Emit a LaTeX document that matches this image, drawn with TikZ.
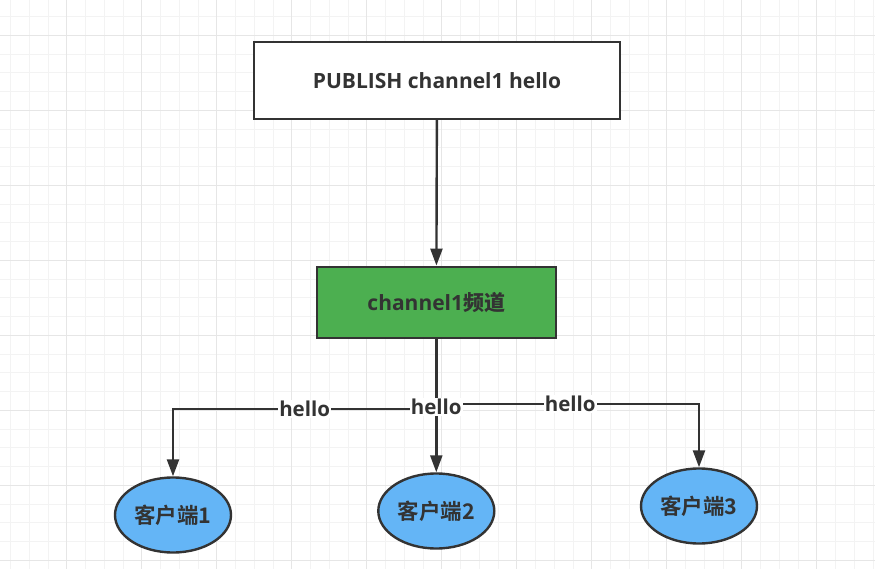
\documentclass[tikz,border=0pt]{standalone}
\usepackage{fontspec}
\setmainfont{Open Sans}
\newfontfamily\cjk{Noto Sans CJK SC Bold}
\usetikzlibrary{arrows.meta,shapes.geometric}
\definecolor{ink}{HTML}{333333}
\definecolor{gfill}{HTML}{4CAF50}
\definecolor{bfill}{HTML}{64B5F6}
\definecolor{gminor}{HTML}{F3F3F3}
\definecolor{gmajor}{HTML}{E6E6E6}
\tikzset{
  minorline/.style={draw=gminor,line width=1pt},
  majorline/.style={draw=gmajor,line width=1pt},
  boxstyle/.style={draw=ink,line width=2.4pt,rectangle,text=ink,font=\fontsize{21}{24}\selectfont\bfseries},
  client/.style={draw=ink,line width=2.4pt,ellipse,fill=bfill,text=ink,inner sep=0pt,minimum width=116pt,minimum height=75pt,font=\fontsize{21.5}{24}\selectfont\cjk},
  conn/.style={draw=ink,line width=2.4pt,-{Triangle[length=17pt,width=12pt]}},
  lbl/.style={fill=white,text=ink,inner sep=1pt,font=\fontsize{20.5}{24}\selectfont\bfseries}
}
\begin{document}
\begin{tikzpicture}[x=1pt,y=-1pt]
\useasboundingbox (0,0) rectangle (875,569);
\fill[white] (0,0) rectangle (875,569);
\foreach \i in {0,...,46} {\draw[minorline] ({10.5+18.75*\i},0) -- ({10.5+18.75*\i},569);}
\foreach \i in {1,...,30} {\draw[minorline] (0,{-2.2+18.75*\i}) -- (875,{-2.2+18.75*\i});}
\foreach \i in {0,...,10} {\draw[majorline] ({66.7+75*\i},0) -- ({66.7+75*\i},569);}
\foreach \i in {0,...,7} {\draw[majorline] (0,{35.3+75*\i}) -- (875,{35.3+75*\i});}

\node[boxstyle,fill=white,minimum width=366pt,minimum height=77pt] (pub) at (437,80.5) {PUBLISH channel1 hello};
\node[boxstyle,fill=gfill,minimum width=239pt,minimum height=71.5pt] (chan) at (436.3,302.5) {channel1{\cjk 频道}};
\node[client] (c1) at (173,515) {客户端1};
\node[client] (c2) at (436.3,511) {客户端2};
\node[client] (c3) at (699,506) {客户端3};

\coordinate (jl) at (436.3,409);
\coordinate (jr) at (436.3,404);

\draw[conn] (pub) -- (chan);
\draw[conn] (chan.south) -- (jr) -| node[lbl,pos=0.255] {hello} (c3.north);
\draw[conn] (chan.south) -- (jl) -| node[lbl,pos=0.25] {hello} (c1.north);
\draw[conn] (chan.south) -- node[lbl,pos=0.51] {hello} (c2.north);
\end{tikzpicture}
\end{document}
